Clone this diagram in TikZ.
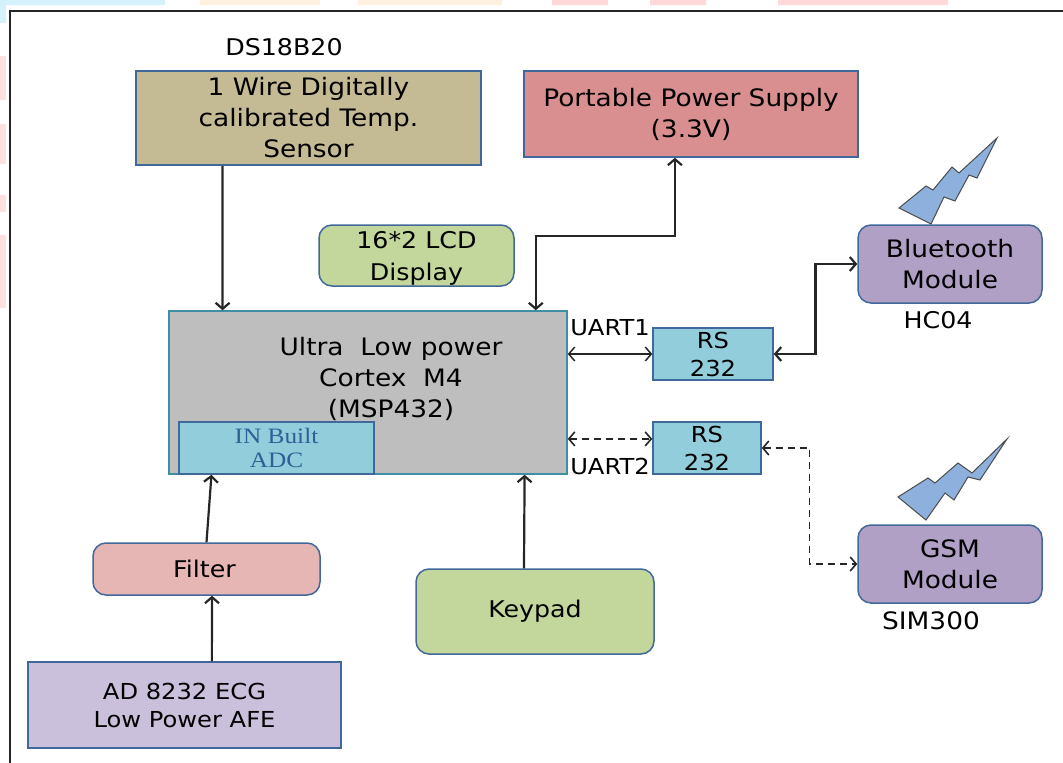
\documentclass[tikz,border=0pt]{standalone}
\usepackage{fontspec}
\setmainfont[FakeStretch=1.1]{DejaVu Sans}
\newfontfamily\adcfont[FakeStretch=1.15]{Liberation Serif}
\usepackage{xcolor}
\usepackage{tikz}
\usetikzlibrary{arrows.meta,calc}
\definecolor{sensorfill}{HTML}{C4BA93}
\definecolor{powerfill}{HTML}{D98F8F}
\definecolor{greenfill}{HTML}{C3D69B}
\definecolor{modulefill}{HTML}{B1A0C6}
\definecolor{mcufill}{HTML}{BEBEBE}
\definecolor{rsfill}{HTML}{92CDDC}
\definecolor{filterfill}{HTML}{E6B6B5}
\definecolor{afefill}{HTML}{CBC0DB}
\definecolor{boltfill}{HTML}{8DB0DC}
\definecolor{edgeblue}{HTML}{41689A}
\definecolor{edgeteal}{HTML}{3E8FA3}
\definecolor{adcblue}{HTML}{2F5F96}
\tikzset{
  block/.style={draw=edgeblue, line width=1.5pt, align=center, inner sep=0pt, font=\fontsize{24}{31}\selectfont},
  roundblock/.style={block, rounded corners=13pt},
  smalltext/.style={font=\fontsize{22}{28}\selectfont, align=center, inner sep=0pt},
  nametext/.style={font=\fontsize{23}{28}\selectfont, align=center, inner sep=0pt},
  link/.style={draw=black!85, line width=2.2pt, -{Straight Barb[length=6pt,width=14pt]}},
  twolink/.style={link, {Straight Barb[length=6pt,width=14pt]}-{Straight Barb[length=6pt,width=14pt]}},
  dashlink/.style={twolink, line width=1.6pt, dash pattern=on 7pt off 5pt},
  bolt/.style={draw=black!70, line width=1pt, fill=boltfill}
}
\begin{document}
\begin{tikzpicture}[x=1pt,y=-1pt]
\useasboundingbox (0,0) rectangle (1063,763);
% page remnants
\fill[cyan!17] (0,0) rectangle (165,5) (0,5) rectangle (6,23);
\fill[orange!12] (200,0) rectangle (320,5) (358,0) rectangle (502,5);
\fill[red!15] (552,0) rectangle (608,5) (650,0) rectangle (706,5) (778,0) rectangle (948,5);
\foreach \ya/\yb in {56/100,124/164,195/212,235/308}
  \fill[red!12] (0,\ya) rectangle (6,\yb);
\draw[black!85, line width=2pt] (10,763) -- (10,11) -- (1063,11);

% blocks
\node[block, fill=sensorfill, minimum width=345pt, minimum height=94pt] (sensor) at (308.5,118) {1 Wire Digitally\\calibrated Temp.\\Sensor};
\node[block, fill=powerfill, minimum width=334pt, minimum height=86pt] (power) at (691,114) {Portable Power Supply\\(3.3V)};
\node[roundblock, fill=greenfill, minimum width=195pt, minimum height=61pt, font=\fontsize{23}{32}\selectfont] (lcd) at (416.5,255.5) {\rule{0pt}{23pt}16*2 LCD\\Display};
\node[roundblock, fill=modulefill, minimum width=184pt, minimum height=78pt] (bluetooth) at (950,264) {Bluetooth\\Module};
\node[roundblock, fill=modulefill, minimum width=184pt, minimum height=78pt] (gsm) at (950,564) {GSM\\Module};
\node[block, draw=edgeteal, fill=mcufill, minimum width=398pt, minimum height=163pt] (mcu) at (368,392.5) {};
\node[inner sep=0pt, align=center, font=\fontsize{24}{31}\selectfont] (mcutext) at (391,378.5) {Ultra\ \ Low power\\Cortex\ \ M4\\(MSP432)};
\node[block, fill=rsfill, minimum width=195pt, minimum height=52pt, text=adcblue, font=\fontsize{22}{24}\selectfont\adcfont] (adc) at (276.5,448) {IN Built\\ADC};
\node[block, fill=rsfill, minimum width=120pt, minimum height=52pt, font=\fontsize{22}{28}\selectfont] (rsone) at (713,354) {RS\\232};
\node[block, fill=rsfill, minimum width=108pt, minimum height=52pt, font=\fontsize{22}{28}\selectfont] (rstwo) at (707,448) {RS\\232};
\node[roundblock, fill=filterfill, minimum width=227pt, minimum height=52pt, font=\fontsize{23}{28}\selectfont] (filter) at (206.5,569) {Filter\hspace{4pt}};
\node[roundblock, fill=greenfill, minimum width=238pt, minimum height=85pt, font=\fontsize{23}{28}\selectfont] (keypad) at (535,611.5) {Keypad};
\node[block, fill=afefill, minimum width=313pt, minimum height=86pt, font=\fontsize{22}{28}\selectfont] (afe) at (184.5,705) {AD 8232 ECG\\Low Power AFE};

% labels
\node[nametext] (sensorname) at (284,47) {DS18B20};
\node[nametext] (btname) at (938,320) {HC04};
\node[nametext, font=\fontsize{24}{28}\selectfont] (gsmname) at (931,621) {SIM300};
\node[smalltext] (uartone) at (610,328) {UART1};
\node[smalltext] (uarttwo) at (610,466) {UART2};

% connectors
\coordinate (rstwoin) at ($(rstwo.north west)!0.33!(rstwo.south west)$);
\draw[link] ($(sensor.south west)!0.252!(sensor.south east)$) -- ($(mcu.north west)!0.136!(mcu.north east)$);
\draw[twolink] ($(mcu.north west)!0.92!(mcu.north east)$) |- ($(power.south west)!0.452!(power.south east)+(0,78)$) -- ($(power.south west)!0.452!(power.south east)$);
\draw[twolink, line width=1.5pt] (mcu.east |- rsone.east) -- (rsone.west);
\draw[twolink] (rsone.east) -| ($(rsone.east)!0.5!(bluetooth.west)$) |- (bluetooth.west);
\draw[dashlink] (mcu.east |- rstwoin) -- (rstwoin);
\draw[dashlink] (rstwo.east) -| ($(rstwo.east)!0.5!(gsm.west)$) |- (gsm.west);
\draw[link] ($(filter.north west)!0.5!(filter.north east)$) -- ($(adc.south west)!0.169!(adc.south east)$);
\draw[link] ($(afe.north west)!0.587!(afe.north east)$) -- ($(filter.south west)!0.524!(filter.south east)$);
\draw[link] ($(keypad.north west)!0.454!(keypad.north east)$) -- ($(mcu.south west)!0.892!(mcu.south east)$);

% lightning
\draw[bolt] (997,138) -- (959,173) -- (952,167) -- (933,190) -- (926,186) -- (899,208) -- (931,224) -- (944,197) -- (955,201) -- (969,175) -- (977,178) -- cycle;
\draw[bolt] (1007,439) -- (972,473) -- (958,463) -- (935,483) -- (928,478) -- (898,497) -- (926,520) -- (945,493) -- (954,500) -- (968,477) -- (980,480) -- cycle;
\end{tikzpicture}
\end{document}
